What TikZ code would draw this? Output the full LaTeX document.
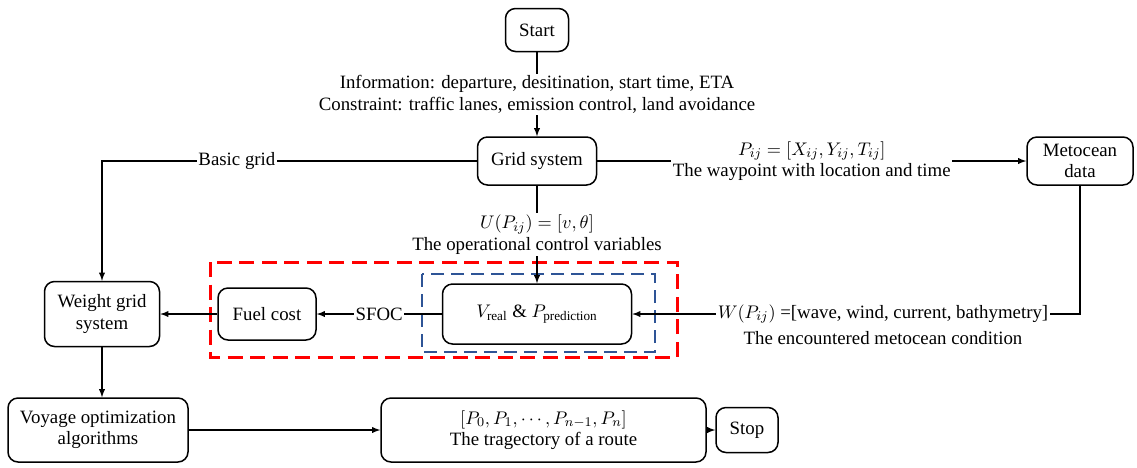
\documentclass[tikz,border=0pt]{standalone}
\usepackage{fontspec}
\setmainfont{Liberation Serif}
\usetikzlibrary{positioning}
\definecolor{frameblue}{RGB}{46,84,150}
\tikzset{
  ->/.style={draw=black,line width=0.7pt,-latex},
  box/.style={draw,rounded corners=6pt,line width=0.9pt,align=center,inner sep=2pt},
  lbl/.style={fill=white,align=center,inner sep=1pt},
  redframe/.style={draw=red,line width=1.8pt,dash pattern=on 9pt off 4.5pt},
  blueframe/.style={draw=frameblue,line width=1.5pt,dash pattern=on 8pt off 4pt}
}
\tikzstyle{every node}=[font=\fontsize{11.3}{12.8}\selectfont]

\begin{document}
\begin{tikzpicture}[x=0.6pt,y=-0.6pt]
    \useasboundingbox (0,0) rectangle (1137,467);
    % boxes
    \node[box,minimum width=37.8pt,minimum height=25.8pt] (start) at (537,30) {Start};
    \node[box,minimum width=71.4pt,minimum height=28.8pt] (grid) at (537,161) {Grid system};
    \node[box,minimum width=63.6pt,minimum height=28.8pt] (meto) at (1080,161) {Metocean\\data};
    \node[box,minimum width=69pt,minimum height=39pt] (weight) at (102,314) {Weight grid\\system};
    \node[box,minimum width=58.8pt,minimum height=31.2pt] (fuel) at (267,314) {Fuel cost};
    \node[box,minimum width=113.4pt,minimum height=36pt] (vp) at (537,314) {$V_{\mathrm{real}}$ \& $P_{\mathrm{prediction}}$};
    \node[box,minimum width=108pt,minimum height=38.4pt] (voyage) at (98,430) {Voyage optimization\\algorithms};
    \node[box,minimum width=195pt,minimum height=38.4pt] (route) at (543.5,430) {$[P_0,P_1,\cdots,P_{n-1},P_n]$\\The tragectory of a route};
    \node[box,minimum width=37.2pt,minimum height=27pt] (stop) at (747,430) {Stop};
    % dashed frames
    \draw[redframe] (210,262) rectangle (677,357);
    \draw[blueframe] (422,274) rectangle (655,352);
    % connectors
    \draw[->] (start) -- node[lbl]{Information: departure, desitination, start time, ETA\\Constraint: traffic lanes, emission control, land avoidance} (grid);
    \draw[->] (grid) -| node[lbl,pos=0.32]{Basic grid} (weight);
    \draw[->] (grid) -- node[lbl]{$P_{ij}=[X_{ij},Y_{ij},T_{ij}]$\\The waypoint with location and time} (meto);
    \draw[->] (grid) -- node[lbl]{$U(P_{ij})=[v,\theta]$\\The operational control variables} (vp);
    \draw[->] (meto) |- node[lbl,pos=0.72] (wlbl) {$W(P_{ij})$ =[wave, wind, current, bathymetry]} (vp);
    \node[below=0pt of wlbl] (wtext) {The encountered metocean condition};
    \draw[->] (vp) -- node[lbl]{SFOC} (fuel);
    \draw[->] (fuel) -- (weight);
    \draw[->] (weight) -- (weight |- voyage.north);
    \draw[->] (voyage) -- (route);
    \draw[->] (route) -- (stop);
\end{tikzpicture}
\end{document}
